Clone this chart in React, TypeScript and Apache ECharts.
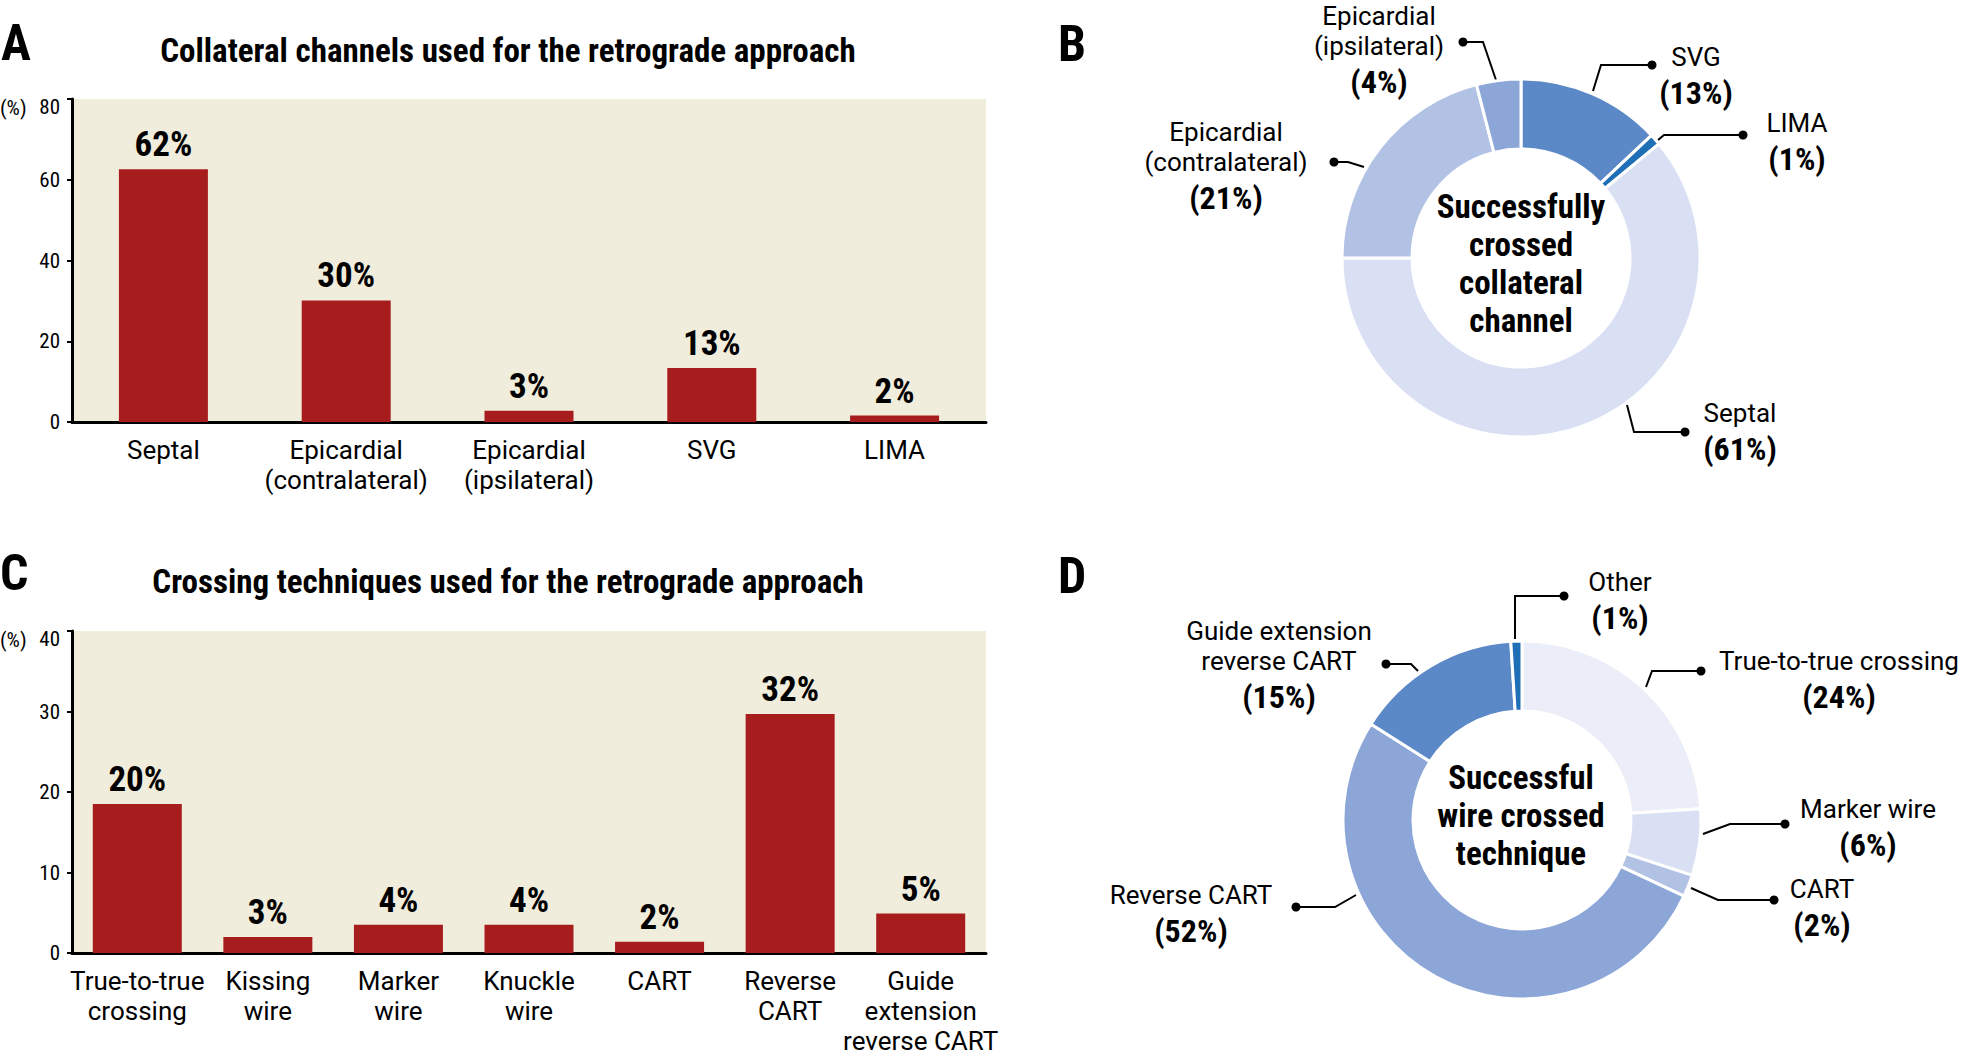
import React, { useEffect, useRef } from "react";
import * as echarts from "echarts";

// ---------- data ----------
const channelCats = ["Septal", "Epicardial\n(contralateral)", "Epicardial\n(ipsilateral)", "SVG", "LIMA"];
const channelVals = [62.6, 30.1, 2.8, 13.4, 1.6];
const channelLabels = ["62%", "30%", "3%", "13%", "2%"];
const channelAxisMax = 80;
const channelAxisStep = 20;

const techCats = [
  "True-to-true\ncrossing",
  "Kissing\nwire",
  "Marker\nwire",
  "Knuckle\nwire",
  "CART",
  "Reverse\nCART",
  "Guide\nextension\nreverse CART",
];
const techVals = [18.5, 2.0, 3.5, 3.5, 1.4, 29.7, 4.9];
const techLabels = ["20%", "3%", "4%", "4%", "2%", "32%", "5%"];
const techAxisMax = 40;
const techAxisStep = 10;

const crossedNames = ["SVG", "LIMA", "Septal", "Epicardial\n(contralateral)", "Epicardial\n(ipsilateral)"];
const crossedVals = [13, 1, 61, 21, 4];
const crossedColors = ["#5B88C6", "#1F6FB7", "#D9E0F3", "#B2C2E5", "#8CA6D7"];

const wireNames = ["True-to-true crossing", "Marker wire", "CART", "Reverse CART", "Guide extension\nreverse CART", "Other"];
const wireVals = [24, 6, 2, 52, 15, 1];
const wireColors = ["#EBEEF8", "#D9E0F3", "#B2C2E5", "#8CA6D7", "#5B88C6", "#1F6FB7"];

// ---------- layout of annotations ----------
const crossedCallouts = [
  { label: [1696, 42], tip: [1593, 91], elbow: [1601, 65], dot: [1652, 65] },
  { label: [1797, 108], tip: [1658, 140], elbow: [1664, 135], dot: [1743, 135] },
  { label: [1740, 398], tip: [1627, 405], elbow: [1634, 432], dot: [1685, 432] },
  { label: [1226, 117], tip: [1364, 167], elbow: [1348, 162], dot: [1334, 162] },
  { label: [1379, 1], tip: [1496, 80], elbow: [1483, 42], dot: [1463, 42] },
];
const wireCallouts = [
  { label: [1839, 646], tip: [1646, 687], elbow: [1652, 671], dot: [1701, 671] },
  { label: [1868, 794], tip: [1703, 834], elbow: [1730, 824], dot: [1785, 824] },
  { label: [1822, 874], tip: [1691, 888], elbow: [1718, 900], dot: [1774, 900] },
  { label: [1191, 880], tip: [1356, 895], elbow: [1335, 907], dot: [1296, 907] },
  { label: [1279, 616], tip: [1418, 671], elbow: [1411, 664], dot: [1386, 664] },
  { label: [1620, 567], tip: [1515, 639], elbow: [1515, 596], dot: [1564, 596] },
];

const COND = "'Roboto Condensed', 'Open Sans', sans-serif";
const REG = "Roboto, 'Liberation Sans', sans-serif";
const RED = "#A71C1C";
const BEIGE = "#F1EDDC";
const BLACK = "#000";

function barAxes(gridIndex: number, cats: string[], max: number, step: number) {
  return {
    x: {
      gridIndex,
      type: "category",
      data: cats,
      axisLine: { lineStyle: { color: BLACK, width: 3 } },
      axisTick: { show: false },
      axisLabel: { interval: 0, margin: 13, fontFamily: REG, fontSize: 26, lineHeight: 30, color: BLACK },
    },
    y: {
      gridIndex,
      type: "value",
      min: 0,
      max,
      interval: step,
      axisLine: { show: true, lineStyle: { color: BLACK, width: 3 } },
      axisTick: { show: true, length: 5, lineStyle: { color: BLACK, width: 2 } },
      splitLine: { show: false },
      axisLabel: {
        margin: 12,
        fontFamily: COND,
        fontSize: 21,
        color: BLACK,
        formatter: (v: number) => (v === max ? `{m|${v}}` : `${v}`),
        rich: { m: { padding: [16, 0, 0, 0], fontFamily: COND, fontSize: 21, color: BLACK } },
      },
    },
  };
}

function barSeries(idx: number, vals: number[], labels: string[]) {
  return {
    type: "bar",
    xAxisIndex: idx,
    yAxisIndex: idx,
    data: vals,
    barWidth: 89,
    itemStyle: { color: RED },
    label: {
      show: true,
      position: "top",
      distance: 7,
      formatter: (p: any) => labels[p.dataIndex],
      fontFamily: COND,
      fontWeight: "bold",
      fontSize: 35,
      color: BLACK,
    },
    emphasis: { disabled: true },
  };
}

function pieSeries(names: string[], vals: number[], colors: string[], center: number[], callouts: any[]) {
  return {
    type: "pie",
    center,
    radius: [109, 179],
    startAngle: 90,
    clockwise: true,
    avoidLabelOverlap: false,
    emphasis: { disabled: true },
    itemStyle: { borderColor: "#fff", borderWidth: 3 },
    data: names.map((n, i) => ({ name: n, value: vals[i], itemStyle: { color: colors[i] } })),
    label: {
      show: true,
      position: "outside",
      align: "center",
      color: BLACK,
      formatter: (p: any) =>
        String(p.name)
          .split("\n")
          .map((l: string) => `{n|${l}}`)
          .join("\n") + `\n{p|(${p.value}%)}`,
      rich: {
        n: { fontFamily: REG, fontSize: 26, lineHeight: 30, color: BLACK, align: "center" },
        p: { fontFamily: COND, fontWeight: "bold", fontSize: 32, lineHeight: 42, color: BLACK, align: "center" },
      },
    },
    labelLine: { show: true, lineStyle: { color: BLACK, width: 2 } },
    labelLayout: (params: any) => {
      const c = callouts[params.dataIndex];
      return {
        x: c.label[0],
        y: c.label[1],
        align: "center",
        verticalAlign: "top",
        labelLinePoints: [c.tip, c.elbow, c.dot],
      };
    },
  };
}

function titleText(text: string, left: number, top: number, size: number, center: boolean) {
  return {
    text,
    left,
    top,
    padding: 0,
    textAlign: center ? "center" : "left",
    textStyle: { fontFamily: COND, fontWeight: "bold", fontSize: size, color: BLACK },
  };
}

export default function App() {
  const ref = useRef<HTMLDivElement>(null);
  useEffect(() => {
    const chart = echarts.init(ref.current!, null, { renderer: "svg" });
    const a = barAxes(0, channelCats, channelAxisMax, channelAxisStep);
    const c = barAxes(1, techCats, techAxisMax, techAxisStep);
    const dots = [...crossedCallouts, ...wireCallouts].map((cl) => ({
      type: "circle",
      shape: { cx: cl.dot[0], cy: cl.dot[1], r: 4.5 },
      style: { fill: BLACK },
      z: 100,
    }));
    const centerText = (text: string, x: number, y: number) => ({
      type: "text",
      x,
      y,
      z: 100,
      style: {
        text,
        fill: BLACK,
        fontFamily: "'Roboto Condensed', sans-serif",
        fontWeight: "bold",
        fontSize: 33,
        lineHeight: 38,
        align: "center",
        verticalAlign: "middle",
      },
    });
    const pctUnit = (y: number) => ({
      type: "text",
      x: 0,
      y,
      z: 100,
      style: {
        text: "(%)",
        fill: BLACK,
        fontFamily: "'Roboto Condensed', sans-serif",
        fontSize: 21,
        align: "left",
        verticalAlign: "middle",
      },
    });
    chart.setOption({
      animation: false,
      backgroundColor: "#fff",
      title: [
        titleText("Collateral channels used for the retrograde approach", 508, 34, 33, true),
        titleText("Crossing techniques used for the retrograde approach", 508, 565, 33, true),
        titleText("A", 1, 18, 50, false),
        titleText("B", 1058, 19, 50, false),
        titleText("C", 0, 548, 50, false),
        titleText("D", 1058, 551, 50, false),
      ],
      grid: [
        { left: 72, top: 99, width: 914, height: 323, show: true, backgroundColor: BEIGE, borderWidth: 0 },
        { left: 72, top: 631, width: 914, height: 322, show: true, backgroundColor: BEIGE, borderWidth: 0 },
      ],
      xAxis: [a.x, c.x],
      yAxis: [a.y, c.y],
      series: [
        barSeries(0, channelVals, channelLabels),
        barSeries(1, techVals, techLabels),
        pieSeries(crossedNames, crossedVals, crossedColors, [1521, 258], crossedCallouts),
        pieSeries(wireNames, wireVals, wireColors, [1522, 820], wireCallouts),
      ],
      graphic: [
        ...dots,
        centerText("Successfully\ncrossed\ncollateral\nchannel", 1521, 263),
        centerText("Successful\nwire crossed\ntechnique", 1521, 815),
        pctUnit(108),
        pctUnit(640),
      ],
    });
    return () => chart.dispose();
  }, []);
  return (
    <div
      ref={ref}
      style={{ position: "fixed", left: 0, top: 0, width: 1972, height: 1057, background: "#fff" }}
    />
  );
}
